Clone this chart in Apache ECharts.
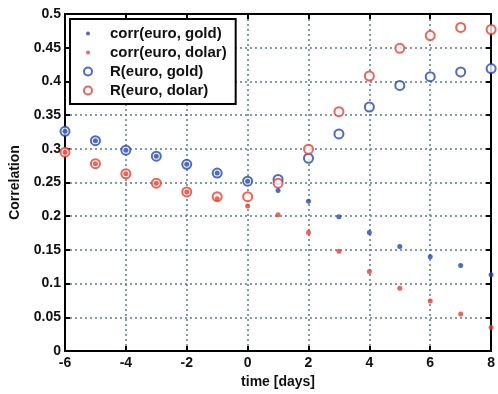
<!DOCTYPE html>
<html>
<head>
<meta charset="utf-8">
<script src="https://cdn.jsdelivr.net/npm/echarts@6/dist/echarts.min.js"></script>
<style>
  html, body { margin: 0; padding: 0; background: #fff; }
  #chart { width: 498px; height: 394px; }
</style>
</head>
<body>
<div id="chart"></div>
<script>
// lag in days
var lags = [-6, -5, -4, -3, -2, -1, 0, 1, 2, 3, 4, 5, 6, 7, 8]
var corrGold = [0.326, 0.312, 0.298, 0.289, 0.277, 0.264, 0.252, 0.238, 0.222, 0.199, 0.176, 0.155, 0.140, 0.127, 0.113]
var corrDolar = [0.295, 0.278, 0.263, 0.249, 0.236, 0.226, 0.215, 0.202, 0.176, 0.148, 0.118, 0.093, 0.074, 0.055, 0.035]
var rGold = [0.326, 0.312, 0.298, 0.289, 0.277, 0.264, 0.252, 0.2545, 0.286, 0.322, 0.362, 0.394, 0.407, 0.414, 0.419]
var rDolar = [0.295, 0.278, 0.263, 0.249, 0.236, 0.229, 0.229, 0.249, 0.2995, 0.355, 0.408, 0.449, 0.468, 0.480, 0.477]

var BLUE = '#2243c0'
var RED = '#f23a2a'
var FONT = '"Liberation Sans", Arial, sans-serif'
// small dot centred in a 10x10 box so the legend keeps it small
var dotIcon = 'path://M0,0M10,10M2.5,5a2.5,2.5 0 1,0 5,0a2.5,2.5 0 1,0 -5,0z'

function pairs(ys) {
  return lags.map(function (x, i) { return [x, ys[i]] })
}

var tickFont = { color: '#111', fontFamily: FONT, fontSize: 14, fontWeight: 'bold' }
var dotted = { show: true, lineStyle: { color: '#5a7c8a', type: [2, 3], width: 1.5 } }
var blackLine = { show: true, onZero: false, lineStyle: { color: '#000', width: 2 } }
var tickIn = { show: true, inside: true, length: 5, lineStyle: { color: '#000', width: 2 } }

var chart = echarts.init(document.getElementById('chart'))
var option = {
  animation: false,
  grid: { left: 63, right: 1, top: 14, bottom: 43 },
  legend: {
    orient: 'vertical',
    left: 70,
    top: 19,
    padding: [7, 9, 6, 13],
    itemWidth: 34,
    itemHeight: 8,
    itemGap: 4,
    borderColor: '#000',
    borderWidth: 2,
    backgroundColor: '#fff',
    textStyle: { color: '#111', fontFamily: FONT, fontSize: 15, fontWeight: 'bold' },
    data: [
      { name: 'corr(euro, gold)', icon: dotIcon },
      { name: 'corr(euro, dolar)', icon: dotIcon },
      { name: 'R(euro, gold)', icon: 'emptyCircle' },
      { name: 'R(euro, dolar)', icon: 'emptyCircle' }
    ]
  },
  xAxis: [
    {
      type: 'value', min: -6, max: 8, interval: 2, position: 'bottom',
      name: 'time [days]', nameLocation: 'middle', nameGap: 24,
      nameTextStyle: tickFont,
      axisLine: blackLine, axisTick: tickIn, splitLine: dotted,
      axisLabel: Object.assign({ margin: 5 }, tickFont)
    },
    {
      type: 'value', min: -6, max: 8, interval: 2, position: 'top',
      axisLine: blackLine, axisTick: tickIn, splitLine: { show: false },
      axisLabel: { show: false }
    }
  ],
  yAxis: [
    {
      type: 'value', min: 0, max: 0.5, interval: 0.05, position: 'left',
      name: 'Correlation', nameLocation: 'middle', nameGap: 43,
      nameTextStyle: tickFont,
      axisLine: blackLine, axisTick: tickIn, splitLine: dotted,
      axisLabel: Object.assign({ margin: 4 }, tickFont)
    },
    {
      type: 'value', min: 0, max: 0.5, interval: 0.05, position: 'right',
      axisLine: blackLine, axisTick: tickIn, splitLine: { show: false },
      axisLabel: { show: false }
    }
  ],
  series: [
    {
      name: 'R(euro, gold)', type: 'scatter', data: pairs(rGold),
      symbol: 'emptyCircle', symbolSize: 9, clip: false,
      itemStyle: { color: BLUE, borderWidth: 2 }
    },
    {
      name: 'R(euro, dolar)', type: 'scatter', data: pairs(rDolar),
      symbol: 'emptyCircle', symbolSize: 9, clip: false,
      itemStyle: { color: RED, borderWidth: 2 }
    },
    {
      name: 'corr(euro, gold)', type: 'scatter', data: pairs(corrGold),
      symbol: 'circle', symbolSize: 5, clip: false,
      itemStyle: { color: BLUE }
    },
    {
      name: 'corr(euro, dolar)', type: 'scatter', data: pairs(corrDolar),
      symbol: 'circle', symbolSize: 5, clip: false,
      itemStyle: { color: RED }
    }
  ]
}
chart.setOption(option)
</script>
</body>
</html>
